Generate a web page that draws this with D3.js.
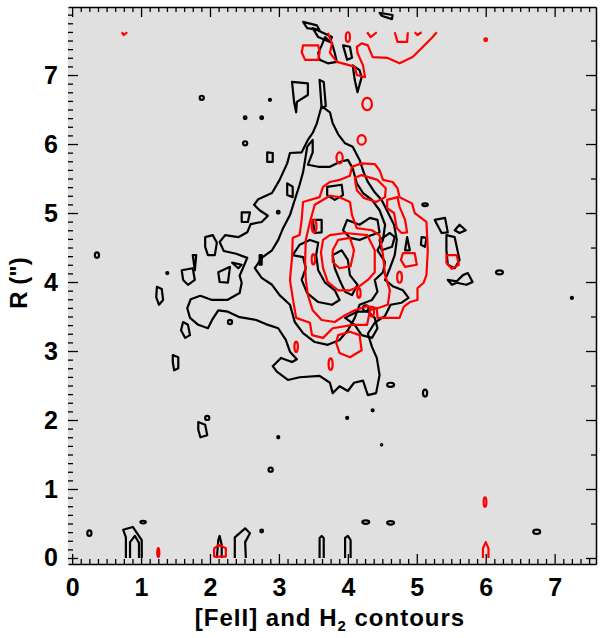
<!DOCTYPE html>
<html lang="en">
<head>
<meta charset="utf-8">
<title>[FeII] and H2 contours</title>
<script src="https://d3js.org/d3.v7.min.js"></script>
<style>
  body { margin: 0; background: #fff; }
  text { font-family: "Liberation Sans", Arial, sans-serif; font-weight: bold; }
</style>
</head>
<body>
<script>
// contour paths, [x, R] in arcsec

// [FeII] (black)
var feiiOuter = [
  [3.62,6.55],[3.74,6.46],[3.78,6.30],[3.86,6.14],[3.96,6.01],[4.07,5.96],[4.17,5.77],[4.23,5.59],[4.29,5.45],[4.39,5.30],
  [4.49,5.19],[4.58,5.01],[4.67,4.83],[4.71,4.61],[4.68,4.39],[4.61,4.20],[4.54,4.03],[4.65,3.94],[4.80,3.88],[4.88,3.77],
  [4.78,3.70],[4.62,3.67],[4.54,3.51],[4.39,3.41],[4.29,3.25],[4.35,3.06],[4.42,2.90],[4.46,2.65],[4.41,2.39],[4.29,2.36],
  [4.22,2.57],[4.09,2.54],[4.00,2.42],[3.88,2.49],[3.78,2.39],[3.74,2.54],[3.59,2.64],[3.30,2.62],[3.13,2.58],[2.97,2.70],
  [2.91,2.78],[3.03,2.90],[3.19,2.84],[3.26,2.88],[3.16,2.99],[3.10,3.16],[2.99,3.33],[2.81,3.39],[2.67,3.45],[2.43,3.49],
  [2.26,3.57],[2.12,3.59],[2.03,3.45],[1.97,3.33],[1.83,3.38],[1.71,3.48],[1.67,3.62],[1.72,3.75],[1.86,3.80],[2.03,3.74],
  [2.25,3.74],[2.43,3.84],[2.46,3.99],[2.43,4.09],[2.49,4.23],[2.54,4.35],[2.38,4.41],[2.20,4.45],[2.14,4.58],[2.22,4.68],
  [2.41,4.65],[2.54,4.72],[2.59,4.84],[2.75,4.87],[2.84,4.96],[2.72,5.04],[2.64,5.12],[2.70,5.20],[2.90,5.29],[3.01,5.48],
  [3.12,5.72],[3.16,5.87],[3.33,5.88],[3.42,6.06],[3.49,6.16],[3.55,6.30]
];
var feiiMid = [
  [3.49,6.06],[3.49,5.88],[3.42,5.70],[3.57,5.67],[3.74,5.67],[3.88,5.74],[4.00,5.77],[4.07,5.65],[4.13,5.43],[4.22,5.29],
  [4.35,5.19],[4.46,5.04],[4.54,4.83],[4.51,4.61],[4.43,4.46],[4.54,4.29],[4.51,4.14],[4.39,4.03],[4.43,3.86],[4.35,3.74],
  [4.17,3.67],[4.10,3.48],[4.00,3.30],[3.88,3.16],[3.71,3.09],[3.52,3.13],[3.35,3.26],[3.23,3.42],[3.16,3.67],[3.01,3.81],
  [2.90,3.96],[2.75,4.06],[2.65,4.20],[2.75,4.35],[2.90,4.46],[2.99,4.61],[3.06,4.78],[3.16,4.97],[3.23,5.19],[3.30,5.41],
  [3.35,5.59],[3.38,5.77],[3.41,5.96]
];
var feiiInner = [
  [[3.20,4.39],[3.35,4.36],[3.39,4.20],[3.33,4.03],[3.41,3.84],[3.57,3.71],[3.77,3.67],[3.88,3.74],[3.81,3.88],[3.67,3.99],
   [3.57,4.17],[3.54,4.39],[3.57,4.57],[3.45,4.61],[3.30,4.54]],
  [[3.78,4.39],[3.91,4.46],[4.00,4.32],[4.03,4.10],[4.14,3.96],[4.06,3.81],[3.96,3.86],[3.88,4.03],[3.81,4.20]],
  [[3.99,4.90],[4.17,4.83],[4.32,4.93],[4.43,4.90],[4.46,4.72],[4.32,4.67],[4.17,4.61],[4.03,4.64],[3.93,4.75]],
  [[3.49,4.90],[3.62,4.90],[3.62,4.72],[3.52,4.71]],
  [[3.70,5.38],[3.91,5.41],[3.93,5.26],[3.81,5.19],[3.70,5.26]],
  [[3.12,5.43],[3.20,5.38],[3.20,5.23],[3.12,5.26]],
  [[4.46,4.61],[4.61,4.71],[4.68,4.65],[4.64,4.51],[4.49,4.46]],
  [[3.96,3.48],[4.10,3.38],[4.20,3.23],[4.35,3.19],[4.43,3.33],[4.39,3.48],[4.29,3.57],[4.13,3.57]]
];
var feiiSmall = [
  [[3.35,7.77],[3.55,7.72],[3.59,7.65],[3.41,7.68]],
  [[3.49,7.68],[3.77,7.55],[3.74,7.48],[3.57,7.55]],
  [[3.67,7.55],[3.77,7.46],[3.81,7.32],[3.84,7.19],[3.71,7.17],[3.59,7.22],[3.57,7.32],[3.62,7.43]],
  [[3.93,7.43],[4.03,7.41],[4.06,7.25],[3.99,7.22]],
  [[4.07,7.14],[4.17,7.07],[4.20,6.97],[4.14,6.75],[4.10,6.93]],
  [[3.19,6.90],[3.42,6.88],[3.42,6.71],[3.26,6.61],[3.25,6.46],[3.22,6.61]],
  [[3.59,6.93],[3.65,6.90],[3.68,6.55],[3.62,6.52]],
  [[4.46,7.90],[4.65,7.87],[4.64,7.81],[4.49,7.86]],
  [[2.83,5.88],[2.91,5.87],[2.91,5.74],[2.83,5.74]],
  [[2.46,5.01],[2.58,5.01],[2.55,4.87],[2.46,4.87]],
  [[1.93,4.65],[2.04,4.68],[2.10,4.57],[2.07,4.39],[1.97,4.39],[1.93,4.51]],
  [[1.59,4.17],[1.75,4.20],[1.78,4.03],[1.68,3.96],[1.61,4.03]],
  [[1.75,4.39],[1.80,4.39],[1.78,4.17]],
  [[2.12,4.14],[2.29,4.22],[2.26,3.99],[2.14,4.00]],
  [[2.32,4.28],[2.46,4.25],[2.41,4.20]],
  [[1.23,3.93],[1.30,3.90],[1.32,3.74],[1.26,3.67],[1.22,3.78]],
  [[1.61,3.42],[1.68,3.38],[1.71,3.23],[1.64,3.19],[1.58,3.30]],
  [[1.46,2.94],[1.54,2.91],[1.54,2.75],[1.48,2.72],[1.46,2.84]],
  [[1.83,1.97],[1.93,1.93],[1.96,1.78],[1.86,1.75],[1.83,1.86]],
  [[2.72,4.39],[2.75,4.39],[2.75,4.25],[2.72,4.25]],
  [[5.26,4.90],[5.41,4.93],[5.45,4.72],[5.36,4.71]],
  [[5.55,4.75],[5.62,4.83],[5.71,4.75],[5.62,4.71]],
  [[5.43,4.68],[5.55,4.65],[5.62,4.32],[5.55,4.20],[5.45,4.25],[5.43,4.46]],
  [[5.45,4.03],[5.58,4.01],[5.67,4.10],[5.74,4.13],[5.81,4.00],[5.72,3.96],[5.58,3.99],[5.51,3.96]],
  [[4.86,4.65],[4.90,4.46],[4.83,4.46]],
  [[5.07,4.65],[5.14,4.64],[5.12,4.51],[5.06,4.54]]
];
var feiiEdge = [
  [[0.78,0],[0.78,0.30],[0.74,0.41],[0.88,0.45],[1.01,0.26],[1.01,0]],
  [[0.84,0],[0.84,0.23],[0.91,0.32],[0.97,0.22],[0.97,0]],
  [[2.10,0],[2.12,0.26],[2.14,0.32],[2.17,0.19],[2.17,0]],
  [[2.36,0],[2.36,0.30],[2.51,0.43],[2.58,0.36],[2.51,0.23],[2.52,0]],
  [[3.59,0],[3.59,0.29],[3.62,0.32],[3.65,0.29],[3.65,0]],
  [[3.96,0],[3.96,0.29],[4.00,0.32],[4.04,0.26],[4.04,0]]
];
// isolated tiny contours: [x, R, half-width, half-height]
var feiiDots = [
  [0.36,4.39,0.03,0.04],[1.88,6.67,0.03,0.03],[2.87,6.64,0.015,0.015],[2.51,6.38,0.02,0.02],[2.75,6.38,0.02,0.02],
  [2.51,6.01,0.03,0.03],[1.38,4.13,0.015,0.015],[2.29,3.42,0.03,0.03],[2.99,5.01,0.02,0.02],[5.12,5.12,0.04,0.02],
  [6.20,4.14,0.05,0.03],[7.25,3.77,0.015,0.015],[4.62,2.51,0.05,0.03],[5.12,2.39,0.03,0.05],[2.99,1.75,0.015,0.015],
  [3.99,2.03,0.015,0.015],[4.36,2.14,0.015,0.015],[4.49,1.64,0.01,0.01],[2.88,1.28,0.03,0.03],[0.25,0.36,0.03,0.04],
  [1.03,0.52,0.04,0.02],[2.75,0.39,0.02,0.02],[4.26,0.52,0.05,0.025],[4.62,0.51,0.05,0.025],[6.74,0.38,0.05,0.03],
  [4.26,3.62,0.04,0.04],[1.96,2.03,0.03,0.03]
];

// H2 (red)
var h2Outer = [
  [3.64,5.38],[3.59,5.23],[3.35,5.16],[3.33,4.90],[3.30,4.68],[3.20,4.64],[3.19,4.35],[3.16,4.03],[3.20,3.77],[3.25,3.48],
  [3.45,3.41],[3.48,3.23],[3.64,3.19],[3.78,3.33],[4.07,3.38],[4.28,3.38],[4.32,3.59],[4.42,3.62],[4.43,3.48],[4.64,3.48],
  [4.75,3.48],[4.81,3.64],[4.90,3.71],[5.01,3.74],[5.01,3.91],[5.10,3.99],[5.14,4.10],[5.16,4.46],[5.14,4.87],[4.97,5.00],
  [4.93,5.14],[4.75,5.23],[4.72,5.36],[4.65,5.45],[4.51,5.48],[4.46,5.62],[4.39,5.71],[4.20,5.72],[4.06,5.67],[4.03,5.54],
  [3.88,5.48],[3.74,5.45]
];
var h2Mid = [
  [3.52,5.12],[3.74,5.25],[3.88,5.23],[4.03,5.16],[4.06,4.97],[4.13,4.78],[4.35,4.75],[4.46,4.68],[4.51,4.39],[4.54,4.10],
  [4.61,3.88],[4.58,3.67],[4.43,3.62],[4.28,3.65],[4.10,3.59],[3.96,3.52],[3.81,3.42],[3.62,3.45],[3.49,3.59],[3.42,3.81],
  [3.39,4.03],[3.38,4.32],[3.39,4.61],[3.45,4.87]
];
var h2Inner = [
  [3.64,4.61],[3.74,4.68],[3.96,4.71],[4.28,4.68],[4.39,4.46],[4.39,4.14],[4.29,4.03],[4.17,3.94],[4.03,3.88],[3.86,3.88],
  [3.71,4.00],[3.64,4.20],[3.61,4.43]
];
var h2Core = [
  [3.78,4.46],[3.86,4.61],[4.03,4.64],[4.09,4.46],[4.04,4.23],[3.88,4.20],[3.78,4.29]
];
var h2Small = [
  [[4.57,5.19],[4.72,5.23],[4.75,5.09],[4.83,4.90],[4.86,4.72],[4.78,4.71],[4.71,4.78],[4.67,5.00],[4.57,5.07]],
  [[4.80,4.42],[4.97,4.42],[5.00,4.25],[4.83,4.22],[4.77,4.32]],
  [[5.43,4.39],[5.58,4.39],[5.61,4.25],[5.51,4.19],[5.43,4.28]],
  [[3.86,3.23],[4.03,3.28],[4.17,3.23],[4.20,3.01],[4.03,2.91],[3.88,2.97],[3.83,3.12]],
  [[3.35,7.43],[3.57,7.43],[3.59,7.33],[3.57,7.22],[3.38,7.22],[3.33,7.33]],
  [[4.10,5.51],[4.20,5.55],[4.43,5.48],[4.55,5.36],[4.54,5.23],[4.41,5.16],[4.23,5.22],[4.13,5.33]],
  [[2.06,0.02],[2.06,0.14],[2.13,0.19],[2.23,0.14],[2.23,0.02]]
];
var h2Open = [
  [[3.71,7.61],[3.77,7.46],[3.74,7.32],[3.84,7.19],[4.03,7.14],[4.10,7.12],[4.13,7.00],[4.25,6.97],[4.22,7.14],[4.14,7.32],
   [4.13,7.41],[4.20,7.46],[4.29,7.43],[4.36,7.26],[4.57,7.25],[4.75,7.17],[4.94,7.26],[5.09,7.41],[5.23,7.55],[5.29,7.62]],
  [[4.28,7.62],[4.33,7.55],[4.42,7.62]],
  [[4.68,7.62],[4.72,7.48],[4.86,7.48],[4.87,7.62]],
  [[4.97,7.62],[5.01,7.58],[5.07,7.62]],
  [[0.72,7.62],[0.75,7.58],[0.80,7.62]],
  [[5.96,0],[5.96,0.14],[6.00,0.23],[6.04,0.14],[6.04,0]]
];
var h2Dots = [
  [4.75,4.07,0.035,0.08],[3.25,3.06,0.025,0.075],[3.75,2.81,0.03,0.085],[4.28,6.58,0.07,0.09],[4.20,6.06,0.06,0.07],
  [3.88,5.80,0.045,0.08],[4.00,7.55,0.03,0.07],[3.51,4.81,0.035,0.09],[3.50,4.33,0.025,0.075],[4.16,3.84,0.025,0.07],
  [4.35,3.57,0.03,0.07],[5.99,0.81,0.02,0.07],[1.25,0.08,0.015,0.065],[6.00,7.51,0.02,0.02]
];

// axes
var xMajor = d3.range(0, 8);
var xMinor = d3.range(0, 7.6, 0.125).filter(function(v) { return v % 1 !== 0; });
var yMajor = d3.range(0, 8);
var yMinor = d3.range(0, 7.95, 0.125).filter(function(v) { return v % 1 !== 0; });
var yMinorRight = [0.5, 1.5, 2.5, 3.5, 4.5, 5.5, 6.5, 7.5];

var width = 600, height = 638;
var pLeft = 68, pRight = 596, pTop = 7, pBottom = 564;

var svg = d3.select("body").append("svg")
    .attr("width", width)
    .attr("height", height);

var x = d3.scaleLinear().domain([-0.06, 7.6]).range([pLeft, pRight]);
var y = d3.scaleLinear().domain([-0.087, 7.986]).range([pBottom, pTop]);

svg.append("rect")
    .attr("x", pLeft).attr("y", pTop)
    .attr("width", pRight - pLeft).attr("height", pBottom - pTop)
    .attr("fill", "#e0e0e0");

svg.append("clipPath").attr("id", "plot")
  .append("rect")
    .attr("x", pLeft).attr("y", pTop)
    .attr("width", pRight - pLeft).attr("height", pBottom - pTop);

var plot = svg.append("g").attr("clip-path", "url(#plot)");

var openLine = d3.line().x(function(d) { return x(d[0]); }).y(function(d) { return y(d[1]); });
var loopLine = d3.line().x(function(d) { return x(d[0]); }).y(function(d) { return y(d[1]); })
    .curve(d3.curveLinearClosed);

function drawPaths(list, gen, color) {
  plot.append("g")
    .selectAll("path")
    .data(list)
    .enter().append("path")
      .attr("d", function(d) { return gen(d); })
      .attr("fill", "none")
      .attr("stroke", color)
      .attr("stroke-width", 2.2)
      .attr("stroke-linejoin", "round");
}

function drawDots(list, color) {
  plot.append("g")
    .selectAll("ellipse")
    .data(list)
    .enter().append("ellipse")
      .attr("cx", function(d) { return x(d[0]); })
      .attr("cy", function(d) { return y(d[1]); })
      .attr("rx", function(d) { return x(d[2]) - x(0); })
      .attr("ry", function(d) { return y(0) - y(d[3]); })
      .attr("fill", "none")
      .attr("stroke", color)
      .attr("stroke-width", 2.2);
}

drawPaths([feiiOuter, feiiMid].concat(feiiInner, feiiSmall), loopLine, "#000");
drawPaths(feiiEdge, openLine, "#000");
drawDots(feiiDots, "#000");

drawPaths([h2Outer, h2Mid, h2Inner, h2Core].concat(h2Small), loopLine, "#f00");
drawPaths(h2Open, openLine, "#f00");
drawDots(h2Dots, "#f00");

function styleAxis(g) {
  g.selectAll("line").attr("stroke", "#000").attr("stroke-width", 1.3);
  g.selectAll(".domain").attr("stroke", "#000").attr("stroke-width", 1.5);
  g.selectAll("text").attr("font-family", "Liberation Sans, Arial, sans-serif")
    .attr("font-weight", "bold").attr("font-size", 25).attr("fill", "#000");
}

// bottom
svg.append("g").attr("transform", "translate(0," + pBottom + ")")
  .call(d3.axisBottom(x).tickValues(xMinor).tickSize(-5).tickFormat("").tickSizeOuter(0))
  .call(styleAxis);
svg.append("g").attr("transform", "translate(0," + pBottom + ")")
  .call(d3.axisBottom(x).tickValues(xMajor).tickSize(-10).tickPadding(14).tickFormat(d3.format("d")).tickSizeOuter(0))
  .call(styleAxis)
  .call(function(g) { g.select(".domain").remove(); });

// top
svg.append("g").attr("transform", "translate(0," + pTop + ")")
  .call(d3.axisTop(x).tickValues(xMinor).tickSize(-5).tickFormat("").tickSizeOuter(0))
  .call(styleAxis);
svg.append("g").attr("transform", "translate(0," + pTop + ")")
  .call(d3.axisTop(x).tickValues(xMajor).tickSize(-10).tickFormat("").tickSizeOuter(0))
  .call(styleAxis)
  .call(function(g) { g.select(".domain").remove(); });

// left
svg.append("g").attr("transform", "translate(" + pLeft + ",0)")
  .call(d3.axisLeft(y).tickValues(yMinor).tickSize(-5).tickFormat("").tickSizeOuter(0))
  .call(styleAxis)
  .call(function(g) { g.select(".domain").remove(); });
svg.append("g").attr("transform", "translate(" + pLeft + ",0)")
  .call(d3.axisLeft(y).tickValues(yMajor).tickSize(-10).tickPadding(10).tickFormat(d3.format("d")).tickSizeOuter(0))
  .call(styleAxis)
  .call(function(g) { g.select(".domain").remove(); });

// right
svg.append("g").attr("transform", "translate(" + pRight + ",0)")
  .call(d3.axisRight(y).tickValues(yMinorRight).tickSize(-5).tickFormat("").tickSizeOuter(0))
  .call(styleAxis);
svg.append("g").attr("transform", "translate(" + pRight + ",0)")
  .call(d3.axisRight(y).tickValues(yMajor).tickSize(-10).tickFormat("").tickSizeOuter(0))
  .call(styleAxis)
  .call(function(g) { g.select(".domain").remove(); });

// titles
var xt = svg.append("text")
    .attr("x", (pLeft + pRight) / 2 - 2)
    .attr("y", 626)
    .attr("text-anchor", "middle")
    .attr("font-size", 24)
    .attr("letter-spacing", 1);
xt.append("tspan").text("[FeII] and H");
xt.append("tspan").attr("font-size", 15).attr("dy", 5).text("2");
xt.append("tspan").attr("dy", -5).text(" contours");

svg.append("text")
    .attr("transform", "translate(27," + 283 + ") rotate(-90)")
    .attr("text-anchor", "middle")
    .attr("font-size", 24)
    .text('R (")');
</script>
</body>
</html>
